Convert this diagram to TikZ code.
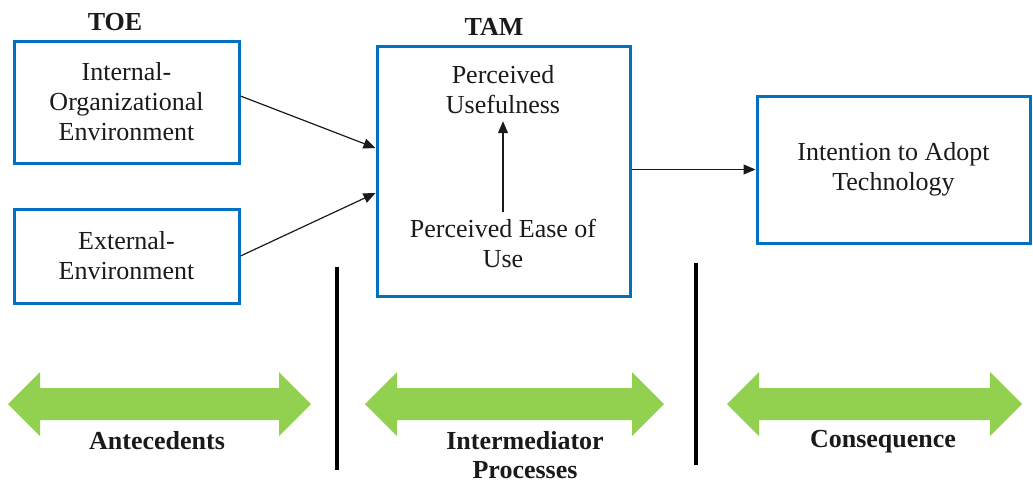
\documentclass[tikz,border=0pt]{standalone}
\usepackage{fontspec}
\setmainfont{Liberation Serif}
\usepackage{tikz}
\usetikzlibrary{arrows.meta}
\definecolor{boxblue}{HTML}{0070C0}
\definecolor{bandgreen}{HTML}{92D050}
\definecolor{ink}{HTML}{1A1A1A}
\tikzset{
  box/.style={draw=boxblue, line width=1.5pt, align=center, text=ink, font={\fontsize{13}{15}\selectfont}, inner sep=0pt},
  txt/.style={text=ink, align=center, font={\fontsize{13}{15}\selectfont}},
  head/.style={text=ink, align=center, font={\fontsize{13}{14.5}\selectfont\bfseries}},
  arr/.style={draw=ink, line width=0.6pt, -{Triangle[length=6pt, width=5pt]}},
  divider/.style={draw=black, line width=1.6pt},
  band/.style={fill=bandgreen, draw=none},
}

\begin{document}
\begin{tikzpicture}[x=0.5pt, y=-0.5pt]
  \useasboundingbox (0,0) rectangle (1033,484);

  % TOE side
  \node[head] (toe) at (115,22) {TOE};
  \node[box, minimum width=112.5pt, minimum height=61pt] (internal) at (126.5,102) {Internal-\\Organizational\\Environment};
  \node[box, minimum width=112.5pt, minimum height=47pt] (external) at (126.5,256) {External-\\Environment};

  % TAM box
  \node[head] (tamlabel) at (494,27) {TAM};
  \node[box, minimum width=126.5pt, minimum height=125pt] (tam) at (503.5,171) {};
  \node[txt] (pu) at (503,90) {Perceived\\Usefulness};
  \node[txt] (peou) at (503,243) {Perceived Ease of\\Use};

  % outcome
  \node[box, minimum width=136.5pt, minimum height=73.5pt] (intention) at (893.5,169.5) {Intention to Adopt\\Technology};

  % links
  \draw[arr] ([yshift=3pt]internal.east) -- ([yshift=11.5pt]tam.west);
  \draw[arr] (external.east) -- ([yshift=-11pt]tam.west);
  \draw[arr] (peou.north) -- (pu.south);
  \draw[arr] (tam.east |- intention.west) -- (intention.west);

  % dividers
  \draw[divider] (337,267) -- (337,470);
  \draw[divider] (696,263) -- (696,465);

  % green double arrows
  \foreach \xa/\xb in {8/311, 365/664, 727/1022}{
    \fill[band] (\xa,404) -- (\xa+32,372) -- (\xa+32,388) -- (\xb-32,388) -- (\xb-32,372) -- (\xb,404)
      -- (\xb-32,436) -- (\xb-32,420) -- (\xa+32,420) -- (\xa+32,436) -- cycle;
  }

  % stage labels
  \node[head] (antecedents) at (157,441) {Antecedents};
  \node[head] (intermediator) at (525,455) {Intermediator\\Processes};
  \node[head] (consequence) at (883,442) {Consequence};
\end{tikzpicture}
\end{document}
